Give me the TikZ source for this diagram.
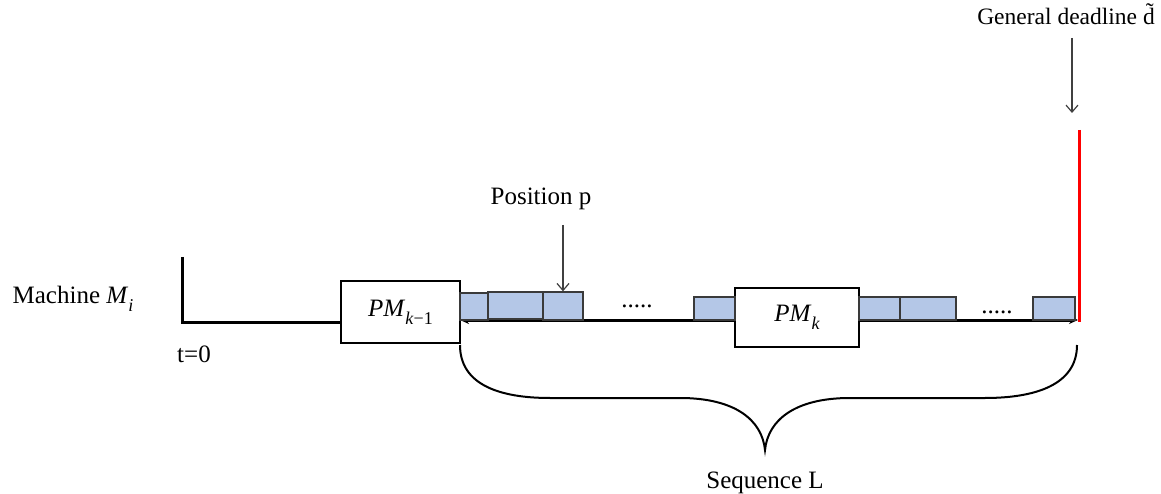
\documentclass[tikz,border=0pt]{standalone}
\usepackage{fontspec}
\setmainfont{Liberation Serif}
\usetikzlibrary{arrows.meta}
\definecolor{jobblue}{HTML}{B4C7E7}
\definecolor{jobedge}{HTML}{3A3A3A}
\newcommand{\mysub}[1]{\raisebox{-0.32em}{\fontsize{18}{20}\selectfont #1}}
\begin{document}
\begin{tikzpicture}[x=1pt,y=-1pt,
  lbl/.style={inner sep=0pt, anchor=base, font=\fontsize{25}{30}\selectfont},
  pmbox/.style={draw, line width=2pt, fill=white, inner sep=0pt, font=\fontsize{25}{30}\selectfont},
  job/.style={draw=jobedge, line width=1.3pt, fill=jobblue, inner sep=0pt},
  pointer/.style={draw=black!75, line width=1.2pt, -{Straight Barb[length=7pt,width=12pt]}},
  axis/.style={line width=3pt},
  timearrow/.style={{Stealth[length=9pt,width=8pt]}-{Stealth[length=9pt,width=8pt]}},
]
\useasboundingbox (0,0) rectangle (1161,494);

% coordinates
\coordinate (ax) at (182,257);
\coordinate (o) at (182,322);
\coordinate (tstart) at (460,320);
\coordinate (tend) at (1078,320);
\coordinate (ptop) at (563,225);
\coordinate (dtop) at (1072,38);
\coordinate (dtip) at (1072,113);
\coordinate (rtop) at (1079,130);
\coordinate (rbot) at (1079,322);
\coordinate (bl) at (460,345);
\coordinate (br) at (1077,345);

% time line
\draw[axis, timearrow] (tstart) -- (tend);

% boxes
\node[pmbox, minimum width=119pt, minimum height=62pt] (pm1) at (400.5,312) {\textit{PM}\mysub{\textit{k}−1}};
\node[pmbox, minimum width=124pt, minimum height=59pt] (pmk) at (797,317.5) {\textit{PM}\mysub{\textit{k}}};

\draw[axis] (ax) -- (o) -- (o -| pm1.west);

% jobs
\node[job, minimum width=28pt, minimum height=27pt] (b1) at (474,306.5) {};
\node[job, minimum width=55pt, minimum height=27pt] (b2) at (515.5,305.5) {};
\node[job, minimum width=40pt, minimum height=28pt] (b3) at (563,306) {};
\node[job, minimum width=41pt, minimum height=23pt] (b4) at (714.5,308.5) {};
\node[job, minimum width=41pt, minimum height=23pt] (b5) at (879.5,308.5) {};
\node[job, minimum width=56pt, minimum height=23pt] (b6) at (928,308.5) {};
\node[job, minimum width=42pt, minimum height=23pt] (b7) at (1054,308.5) {};

% dots
\node[lbl] (dots1) at (637,307) {.....};
\node[lbl] (dots2) at (997,313) {.....};

% labels
\node[lbl] (mach) at (73,303) {Machine \textit{M}\mysub{\textit{i}}};
\node[lbl] (t0) at (194,362) {t=0};
\node[lbl] (pos) at (541,205) {Position p};
\node[lbl, font=\fontsize{23.5}{28}\selectfont] (gd) at (1066,25) {General deadline \~{d}};
\node[lbl] (seq) at (765,488) {Sequence L};

% pointers
\draw[pointer] (ptop) -- (b3.north);
\draw[pointer] (dtop) -- (dtip);

% deadline
\draw[red, line width=3pt] (rtop) -- (rbot);

% brace
\draw[line width=2pt] (bl) .. controls (460,385) and (500,398) .. (550,398) -- (680,398)
  .. controls (735,398) and (762,420) .. (765,450)
  .. controls (768,420) and (795,398) .. (850,398) -- (985,398)
  .. controls (1035,398) and (1077,385) .. (br);
\end{tikzpicture}
\end{document}
